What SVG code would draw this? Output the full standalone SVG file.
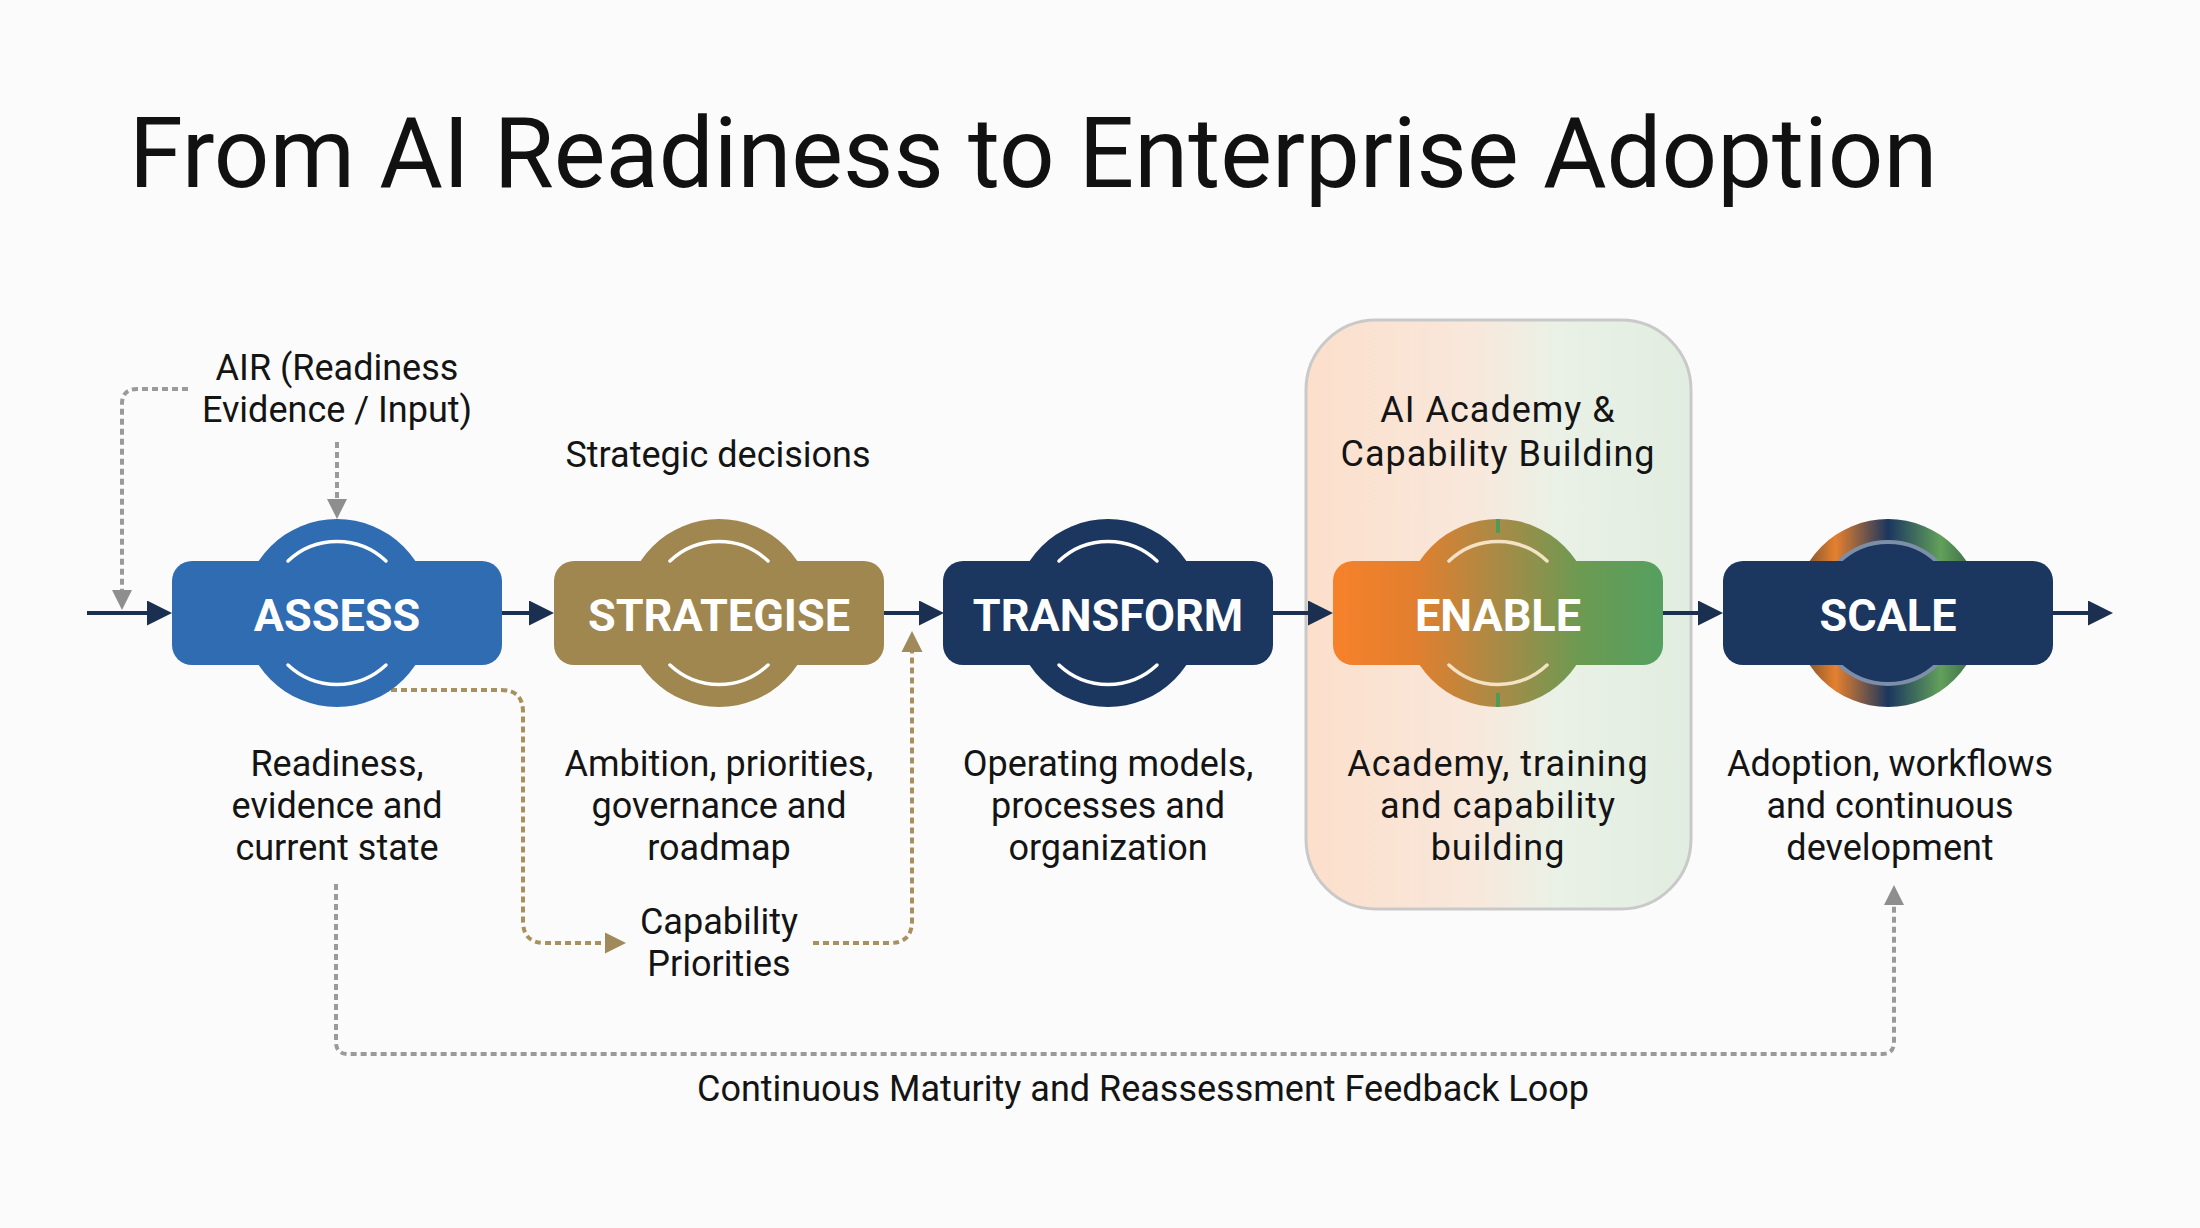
<svg xmlns="http://www.w3.org/2000/svg" width="2200" height="1228" viewBox="0 0 2200 1228">
  <style>
    .title { font-family: Roboto, "Liberation Sans", sans-serif; font-size: 97.6px; fill: #111111; }
    .lbl { font-family: Roboto, "Liberation Sans", sans-serif; font-size: 36px; fill: #141414; text-anchor: middle; }
    .lbl2 { font-family: Roboto, "Liberation Sans", sans-serif; font-size: 36px; letter-spacing: 1px; fill: #141414; text-anchor: middle; }
    .nodetxt { font-family: Roboto, "Liberation Sans", sans-serif; font-size: 45px; font-weight: 700; fill: #ffffff; text-anchor: middle; }
    .arc { fill: none; stroke: #ffffff; stroke-width: 3.5; stroke-linecap: round; }
    .main { fill: none; stroke: #1b2f50; stroke-width: 4; }
    .grey { fill: none; stroke: #9a9a9a; stroke-width: 4; stroke-dasharray: 6 4; }
    .gold { fill: none; stroke: #a8915f; stroke-width: 4; stroke-dasharray: 6 4; }
  </style>
  <defs>
    <marker id="mNavy" viewBox="0 0 10 10" refX="0" refY="5" markerUnits="userSpaceOnUse" markerWidth="25" markerHeight="25" orient="auto">
      <path d="M0,0 L10,5 L0,10 z" fill="#1b2f50"/>
    </marker>
    <marker id="mGrey" viewBox="0 0 10 10" refX="0" refY="5" markerUnits="userSpaceOnUse" markerWidth="20" markerHeight="21" orient="auto">
      <path d="M0,0 L10,5 L0,10 z" fill="#8e8e8e"/>
    </marker>
    <marker id="mGold" viewBox="0 0 10 10" refX="0" refY="5" markerUnits="userSpaceOnUse" markerWidth="21" markerHeight="23" orient="auto">
      <path d="M0,0 L10,5 L0,10 z" fill="#a08a5c"/>
    </marker>
    <linearGradient id="boxGrad" x1="0" y1="0" x2="1" y2="0">
      <stop offset="0" stop-color="#fcdfcb"/>
      <stop offset="0.45" stop-color="#f8e8dc"/>
      <stop offset="0.65" stop-color="#eaf1e6"/>
      <stop offset="1" stop-color="#e1ede0"/>
    </linearGradient>
    <linearGradient id="enableGrad" gradientUnits="userSpaceOnUse" x1="1333" y1="0" x2="1663" y2="0">
      <stop offset="0" stop-color="#f7812a"/>
      <stop offset="0.25" stop-color="#e27f2e"/>
      <stop offset="0.5" stop-color="#a98a46"/>
      <stop offset="0.75" stop-color="#6c9a52"/>
      <stop offset="1" stop-color="#55a060"/>
    </linearGradient>
    <linearGradient id="scaleRing" gradientUnits="userSpaceOnUse" x1="1794" y1="0" x2="1982" y2="0">
      <stop offset="0" stop-color="#5a4330"/>
      <stop offset="0.22" stop-color="#e5802f"/>
      <stop offset="0.5" stop-color="#1b365f"/>
      <stop offset="0.78" stop-color="#62a05a"/>
      <stop offset="1" stop-color="#2f5a45"/>
    </linearGradient>
  </defs>

  <rect x="0" y="0" width="2200" height="1228" fill="#fbfbfb"/>

  <text class="title" x="129" y="187">From AI Readiness to Enterprise Adoption</text>

  <!-- ENABLE enclosure -->
  <g id="enable-group">
    <rect x="1306" y="320" width="385" height="589" rx="70" ry="70" fill="url(#boxGrad)" stroke="#c9c9c9" stroke-width="3"/>
    <text class="lbl2" x="1498" y="422">AI Academy &amp;</text>
    <text class="lbl2" x="1498" y="466">Capability Building</text>
  </g>

  <!-- connectors -->
  <g id="connectors">
    <path class="main" d="M87,613 H147" marker-end="url(#mNavy)"/>
    <path class="main" d="M502,613 H529" marker-end="url(#mNavy)"/>
    <path class="main" d="M884,613 H919" marker-end="url(#mNavy)"/>
    <path class="main" d="M1273,613 H1308" marker-end="url(#mNavy)"/>
    <path class="main" d="M1663,613 H1698" marker-end="url(#mNavy)"/>
    <path class="main" d="M2053,613 H2088" marker-end="url(#mNavy)"/>

    <path class="grey" d="M188,389 H137 Q122,389 122,404 V590" marker-end="url(#mGrey)"/>
    <path class="grey" d="M337,442 V499" marker-end="url(#mGrey)"/>

    <path class="gold" d="M391,690 H501 Q523,690 523,712 V921 Q523,943 545,943 H605" marker-end="url(#mGold)"/>
    <path class="gold" d="M813,943 H890 Q912,943 912,921 V652" marker-end="url(#mGold)"/>

    <path class="grey" d="M336,884 V1042 Q336,1054 348,1054 H1882 Q1894,1054 1894,1042 V905" marker-end="url(#mGrey)"/>
  </g>

  <!-- ASSESS -->
  <g id="assess">
    <circle cx="337" cy="613" r="94" fill="#2f6cb1"/>
    <rect x="172" y="561" width="330" height="104" rx="20" fill="#2f6cb1"/>
    <path class="arc" d="M288,561 A71.4,71.4 0 0 1 386,561"/>
    <path class="arc" d="M288,665 A71.4,71.4 0 0 0 386,665"/>
    <text class="nodetxt" x="337" y="631">ASSESS</text>
  </g>

  <!-- STRATEGISE -->
  <g id="strategise">
    <circle cx="719" cy="613" r="94" fill="#a0864f"/>
    <rect x="554" y="561" width="330" height="104" rx="20" fill="#a0864f"/>
    <path class="arc" d="M670,561 A71.4,71.4 0 0 1 768,561"/>
    <path class="arc" d="M670,665 A71.4,71.4 0 0 0 768,665"/>
    <text class="nodetxt" x="719" y="631">STRATEGISE</text>
  </g>

  <!-- TRANSFORM -->
  <g id="transform">
    <circle cx="1108" cy="613" r="94" fill="#1b365f"/>
    <rect x="943" y="561" width="330" height="104" rx="20" fill="#1b365f"/>
    <path class="arc" d="M1059,561 A71.4,71.4 0 0 1 1157,561"/>
    <path class="arc" d="M1059,665 A71.4,71.4 0 0 0 1157,665"/>
    <text class="nodetxt" x="1108" y="631">TRANSFORM</text>
  </g>

  <!-- ENABLE -->
  <g id="enable">
    <circle cx="1498" cy="613" r="94" fill="url(#enableGrad)"/>
    <rect x="1333" y="561" width="330" height="104" rx="20" fill="url(#enableGrad)"/>
    <rect x="1496" y="519" width="4" height="14" fill="#4f9a55"/>
    <rect x="1496" y="693" width="4" height="14" fill="#4f9a55"/>
    <path class="arc" d="M1449,561 A71.4,71.4 0 0 1 1547,561" style="stroke:#f3e2c4"/>
    <path class="arc" d="M1449,665 A71.4,71.4 0 0 0 1547,665" style="stroke:#f3e2c4"/>
    <text class="nodetxt" x="1498" y="631">ENABLE</text>
  </g>

  <!-- SCALE -->
  <g id="scale">
    <circle cx="1888" cy="613" r="94" fill="url(#scaleRing)"/>
    <circle cx="1888" cy="613" r="71" fill="#1b365f" stroke="#7d8ea8" stroke-width="4"/>
    <rect x="1723" y="561" width="330" height="104" rx="20" fill="#1b365f"/>
    <text class="nodetxt" x="1888" y="631">SCALE</text>
  </g>

  <!-- labels -->
  <g id="labels">
    <text class="lbl" x="337" y="380">AIR (Readiness</text>
    <text class="lbl" x="337" y="422">Evidence / Input)</text>
    <text class="lbl" x="718" y="467">Strategic decisions</text>

    <text class="lbl" x="337" y="776">Readiness,</text>
    <text class="lbl" x="337" y="818">evidence and</text>
    <text class="lbl" x="337" y="860">current state</text>

    <text class="lbl" x="719" y="776">Ambition, priorities,</text>
    <text class="lbl" x="719" y="818">governance and</text>
    <text class="lbl" x="719" y="860">roadmap</text>

    <text class="lbl" x="719" y="934">Capability</text>
    <text class="lbl" x="719" y="976">Priorities</text>

    <text class="lbl" x="1108" y="776">Operating models,</text>
    <text class="lbl" x="1108" y="818">processes and</text>
    <text class="lbl" x="1108" y="860">organization</text>

    <text class="lbl2" x="1498" y="776">Academy, training</text>
    <text class="lbl2" x="1498" y="818">and capability</text>
    <text class="lbl2" x="1498" y="860">building</text>

    <text class="lbl" x="1890" y="776">Adoption, workflows</text>
    <text class="lbl" x="1890" y="818">and continuous</text>
    <text class="lbl" x="1890" y="860">development</text>

    <text class="lbl" x="1143" y="1101">Continuous Maturity and Reassessment Feedback Loop</text>
  </g>
</svg>
